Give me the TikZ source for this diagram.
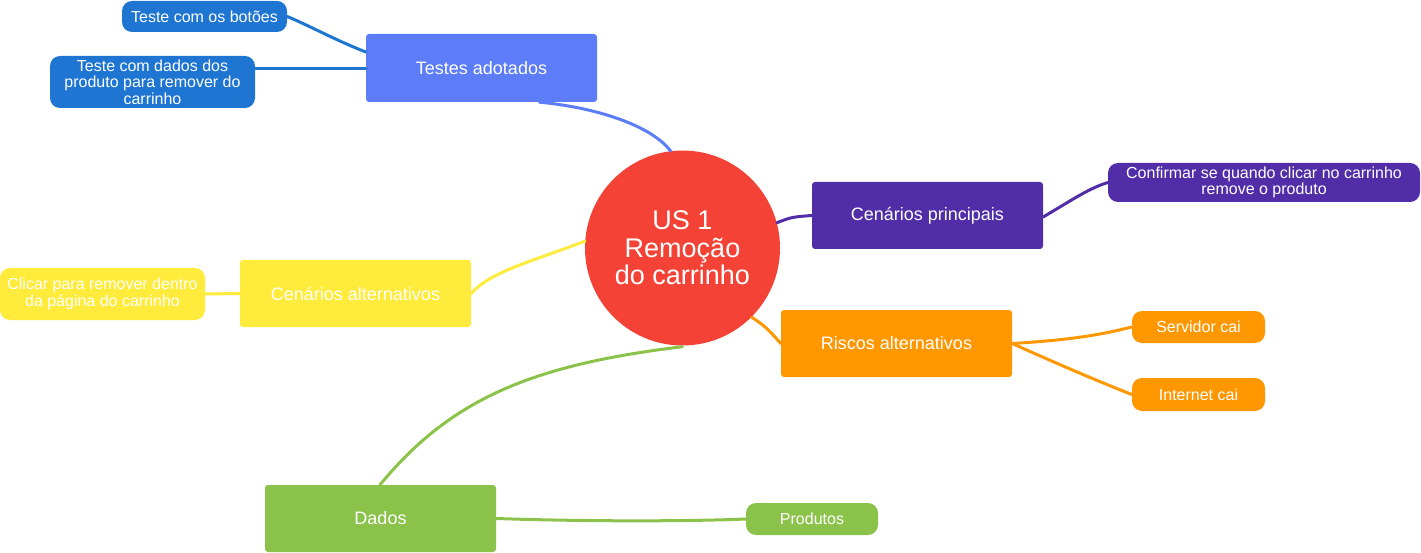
\documentclass[tikz,border=0pt]{standalone}
\usepackage{fontspec}
\setmainfont{Liberation Sans}
\definecolor{cBlue}{HTML}{5C7CF8}
\definecolor{cBlueLeaf}{HTML}{1E76D2}
\definecolor{cRed}{HTML}{F44336}
\definecolor{cPurple}{HTML}{512DA8}
\definecolor{cOrange}{HTML}{FF9800}
\definecolor{cYellow}{HTML}{FFEB3B}
\definecolor{cGreen}{HTML}{8BC34A}
\tikzset{
  mainbox/.style={rectangle, rounded corners=3pt, inner sep=0pt, text=white,
    font=\fontsize{18}{21}\selectfont, align=center},
  leafbox/.style={rectangle, rounded corners=10pt, inner sep=0pt, text=white,
    font=\fontsize{16}{16.6}\selectfont, align=center},
  conn/.style={line width=3pt, line cap=round}
}
\begin{document}
\begin{tikzpicture}[x=1pt,y=-1pt]
\useasboundingbox (0,0) rectangle (1421,553);

% central node
\node[circle, fill=cRed, minimum size=195pt, inner sep=0pt, text=white,
  font=\fontsize{27}{27.5}\selectfont, align=center] (center) at (682.5,248)
  {US 1\\Remoção\\do carrinho};

% main boxes
\node[mainbox, fill=cBlue, minimum width=231pt, minimum height=68pt] (tests) at (481.5,68) {Testes adotados};
\node[mainbox, fill=cPurple, minimum width=231pt, minimum height=67pt] (cprin) at (927.5,215.5) {Cenários principais};
\node[mainbox, fill=cOrange, minimum width=231pt, minimum height=67pt] (riscos) at (896.5,343.5) {Riscos alternativos};
\node[mainbox, fill=cYellow, minimum width=231pt, minimum height=67pt] (calt) at (355.5,293.5) {Cenários alternativos};
\node[mainbox, fill=cGreen, minimum width=231pt, minimum height=67pt] (dados) at (380.5,518.5) {Dados};

% leaves
\node[leafbox, fill=cBlueLeaf, minimum width=165pt, minimum height=31pt] (botoes) at (204.5,16.5) {Teste com os botões};
\node[leafbox, fill=cBlueLeaf, minimum width=205pt, minimum height=52pt] (tdados) at (152.5,82) {Teste com dados dos\\produto para remover do\\carrinho};
\node[leafbox, fill=cPurple, minimum width=312pt, minimum height=39pt] (confirm) at (1264,182.5) {Confirmar se quando clicar no carrinho\\remove o produto};
\node[leafbox, fill=cOrange, minimum width=133pt, minimum height=32pt] (servidor) at (1198.5,327) {Servidor cai};
\node[leafbox, fill=cOrange, minimum width=133pt, minimum height=33pt] (internet) at (1198.5,394.5) {Internet cai};
\node[leafbox, fill=cYellow, minimum width=205pt, minimum height=52pt] (clicar) at (102.5,294) {Clicar para remover dentro\\da página do carrinho};
\node[leafbox, fill=cGreen, minimum width=132pt, minimum height=32pt] (produtos) at (812,519) {Produtos};

% connectors
\draw[conn, draw=cBlue] ([xshift=58pt]tests.south) .. controls (592,107) and (650,124) .. (center.97);
\draw[conn, draw=cBlueLeaf] ([yshift=16pt]tests.west) .. controls (335,40) and (310,26) .. (botoes.east);
\draw[conn, draw=cBlueLeaf] ([yshift=-1pt]tests.west) .. controls (320,69) and (290,69) .. ([yshift=13pt]tdados.east);
\draw[conn, draw=cPurple] (center.15) .. controls (792,217) .. (cprin.west);
\draw[conn, draw=cPurple] ([yshift=-1.5pt]cprin.east) .. controls (1075,198) and (1090,188) .. (confirm.west);
\draw[conn, draw=cOrange] (center.-45) .. controls (766,327) .. (riscos.west);
\draw[conn, draw=cOrange] (riscos.east) .. controls (1070,340) and (1100,335) .. (servidor.west);
\draw[conn, draw=cOrange] (riscos.east) .. controls (1060,365) and (1100,382) .. (internet.west);
\draw[conn, draw=cYellow] (calt.east) .. controls (490,272) and (530,262) .. (center.176);
\draw[conn, draw=cYellow] (clicar.east) -- (calt.west);
\draw[conn, draw=cGreen] ([xshift=-0.5pt]dados.north) .. controls (450,400) and (530,365) .. ([yshift=-1pt]center.south);
\draw[conn, draw=cGreen] (dados.east) .. controls (600,522) and (700,521) .. (produtos.west);
\end{tikzpicture}
\end{document}
